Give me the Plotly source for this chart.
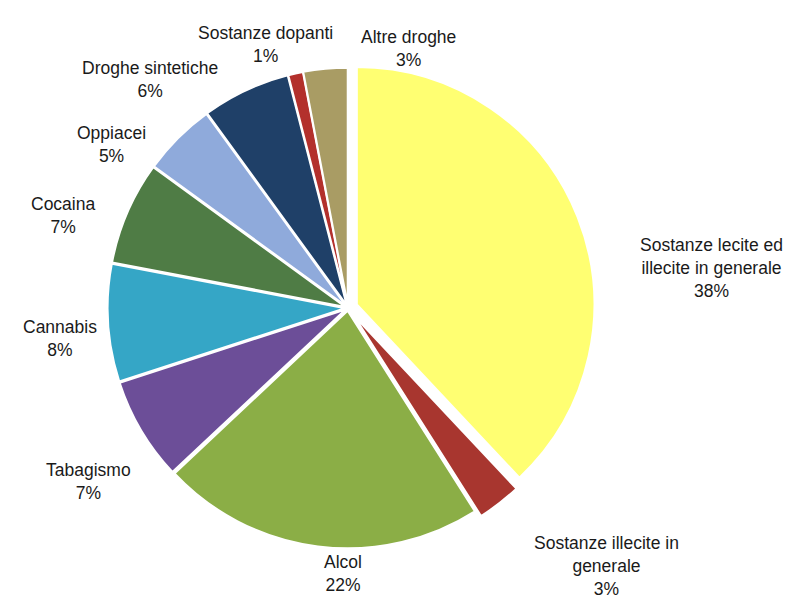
import plotly.graph_objects as go

# Data
labels = ["Sostanze lecite ed illecite in generale", "Sostanze illecite in generale", "Alcol",
          "Tabagismo", "Cannabis", "Cocaina", "Oppiacei", "Droghe sintetiche",
          "Sostanze dopanti", "Altre droghe"]
label_lines = ["Sostanze lecite ed<br>illecite in generale", "Sostanze illecite in<br>generale", "Alcol",
               "Tabagismo", "Cannabis", "Cocaina", "Oppiacei", "Droghe sintetiche",
               "Sostanze dopanti", "Altre droghe"]
values = [38, 3, 22, 7, 8, 7, 5, 6, 1, 3]

# Styles / layout
colors = ["#FFFF72", "#A8362F", "#8BAE46", "#6C4E98", "#35A6C6", "#4F7C45",
          "#8FAADB", "#1F4068", "#B3302C", "#A99C64"]
pulls = [0.04, 0.04, 0.012, 0.012, 0.012, 0.012, 0.012, 0.012, 0.012, 0.012]
# label centres in px
label_px = [(703, 260), (598, 558), (335, 565), (80, 474), (52, 330), (55, 208),
            (103, 137), (142, 72), (257, 37), (400, 41)]

W, H = 797, 599
cx, cy, rad = 340, 300, 247

fig = go.Figure(go.Pie(
    labels=labels, values=values, sort=False, direction="clockwise", rotation=0,
    marker=dict(colors=colors, line=dict(color="#FFFFFF", width=2)),
    pull=pulls, textinfo="none", hoverinfo="label+percent", showlegend=False,
    domain=dict(x=[(cx - rad) / W, (cx + rad) / W], y=[1 - (cy + rad) / H, 1 - (cy - rad) / H]),
))

total = sum(values)
annotations = []
for lab, v, (px, py) in zip(label_lines, values, label_px):
    annotations.append(dict(
        x=px / W, y=1 - py / H, xref="paper", yref="paper",
        text=f"{lab}<br>{v / total * 100:.0f}%", showarrow=False,
        xanchor="center", yanchor="middle", align="center",
        font=dict(family="Liberation Sans, Arial, sans-serif", size=17.5, color="#1A1A1A"),
    ))

fig.update_layout(
    width=W, height=H, margin=dict(l=0, r=0, t=0, b=0),
    paper_bgcolor="white", plot_bgcolor="white",
    annotations=annotations,
)

fig.write_html("out.html")
